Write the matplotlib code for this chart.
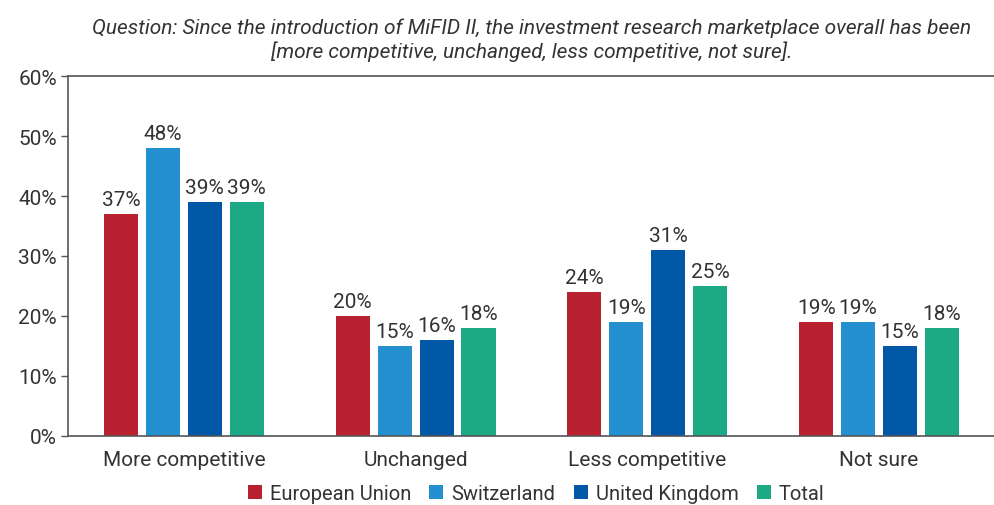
import numpy as np
from matplotlib import pyplot as plt

# data
categories = ["More competitive", "Unchanged", "Less competitive", "Not sure"]
series_names = ["European Union", "Switzerland", "United Kingdom", "Total"]
eu = [37, 20, 24, 19]
ch = [48, 15, 19, 19]
uk = [39, 16, 31, 15]
total = [39, 18, 25, 18]
colors = ["#B92030", "#2490D0", "#0058A6", "#1BAA85"]

plt.rcParams['font.family'] = ['Roboto', 'DejaVu Sans']
txt = "#333333"

fig = plt.figure(figsize=(9.95, 5.06), dpi=100)
ax = fig.add_axes([0.0683, 0.1364, 0.9317, 0.7114])

x = np.arange(len(categories))
width = 0.147
step = 0.181
for i, (vals, name) in enumerate(zip([eu, ch, uk, total], series_names)):
    pos = x + (i - 1.5) * step
    ax.bar(pos, vals, width, color=colors[i], label=name)
    for p, v in zip(pos, vals):
        ax.text(p, v + 0.8, '%d%%' % v, ha='center', va='bottom', fontsize=15, color=txt)

ax.set_xlim(-0.5, 3.5)
ax.set_ylim(0, 60)
ax.set_yticks(range(0, 61, 10))
ax.set_yticklabels(['%d%%' % t for t in range(0, 61, 10)], fontsize=15, color=txt)
ax.set_xticks(x)
ax.set_xticklabels(categories, fontsize=15, color=txt)
ax.tick_params(axis='x', length=0, pad=10)
ax.tick_params(axis='y', length=5, width=1, color="#555555", pad=3)

ax.spines['right'].set_visible(False)
for s in ['left', 'bottom', 'top']:
    ax.spines[s].set_color("#555555")
    ax.spines[s].set_linewidth(1.2)

ax.set_title("Question: Since the introduction of MiFID II, the investment research marketplace overall has been\n"
             "[more competitive, unchanged, less competitive, not sure].",
             fontsize=15, style='italic', color=txt, pad=14, linespacing=1.2)

leg = ax.legend(loc='upper center', bbox_to_anchor=(0.505, -0.133), ncol=4, frameon=False,
                fontsize=14.5, handlelength=0.7, handleheight=0.7, handletextpad=0.4,
                columnspacing=0.9, borderaxespad=0, borderpad=0)
for t in leg.get_texts():
    t.set_color(txt)

plt.savefig("out.png", dpi=100)
